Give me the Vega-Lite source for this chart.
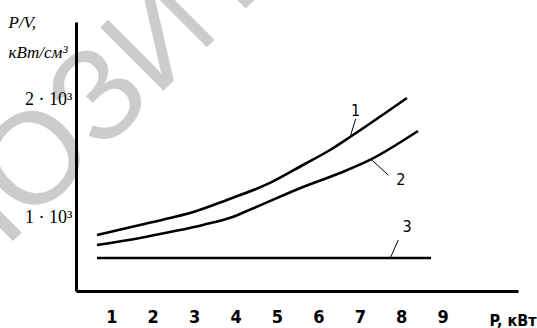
{
  "$schema": "https://vega.github.io/schema/vega-lite/v6.json",
  "width": 442,
  "height": 269,
  "autosize": {"type": "none"},
  "padding": {"left": 76, "top": 22, "right": 19, "bottom": 37},
  "background": "white",
  "config": {"view": {"stroke": null}},
  "datasets": {
    "watermark": [{"x": 2.224, "y": 2534, "t": "РЕПОЗИТОРИЙ"}],
    "curves": [
      {"s": 1, "x": 0.654, "y": 856},
      {"s": 1, "x": 1.692, "y": 941},
      {"s": 1, "x": 2.417, "y": 1000},
      {"s": 1, "x": 2.899, "y": 1042},
      {"s": 1, "x": 3.793, "y": 1153},
      {"s": 1, "x": 4.831, "y": 1297},
      {"s": 1, "x": 5.628, "y": 1449},
      {"s": 1, "x": 6.28, "y": 1576},
      {"s": 1, "x": 6.763, "y": 1686},
      {"s": 1, "x": 8.139, "y": 2017},
      {"s": 2, "x": 0.654, "y": 771},
      {"s": 2, "x": 1.692, "y": 831},
      {"s": 2, "x": 2.417, "y": 881},
      {"s": 2, "x": 3.213, "y": 941},
      {"s": 2, "x": 3.945, "y": 1011},
      {"s": 2, "x": 4.428, "y": 1082},
      {"s": 2, "x": 5.628, "y": 1263},
      {"s": 2, "x": 6.521, "y": 1381},
      {"s": 2, "x": 7.245, "y": 1492},
      {"s": 2, "x": 8.404, "y": 1737},
      {"s": 3, "x": 0.654, "y": 661},
      {"s": 3, "x": 8.72, "y": 661}
    ],
    "labels": [
      {"t": "1", "x": 6.895, "y": 1907},
      {"t": "2", "x": 7.99, "y": 1322},
      {"t": "3", "x": 8.14, "y": 924}
    ],
    "leaders": [
      {"x": 6.9, "y": 1839, "x2": 6.78, "y2": 1703},
      {"x": 7.286, "y": 1492, "x2": 7.687, "y2": 1364},
      {"x": 7.929, "y": 814, "x2": 7.745, "y2": 667}
    ]
  },
  "layer": [
    {
      "data": {"name": "watermark"},
      "mark": {"type": "text", "font": "Liberation Sans", "fontSize": 130, "color": "#cccccc", "angle": -45, "align": "center", "baseline": "middle", "clip": false},
      "encoding": {
        "x": {
          "field": "x", "type": "quantitative",
          "scale": {"domain": [0.147, 10.82], "nice": false, "zero": false},
          "axis": {
            "values": [1, 2, 3, 4, 5, 6, 7, 8, 9],
            "title": "P, кВт",
            "zindex": 1,
            "ticks": false, "grid": false,
            "domainColor": "black", "domainWidth": 3,
            "labelFont": "Liberation Sans Narrow, DejaVu Sans Condensed, Liberation Sans", "labelFontWeight": "bold", "labelFontSize": 18, "labelColor": "black",
            "labelBaseline": "alphabetic", "labelPadding": 31, "labelFlush": false, "labelOverlap": false,
            "titleFont": "Liberation Sans Narrow, DejaVu Sans Condensed, Liberation Sans", "titleFontWeight": "bold", "titleFontSize": 16, "titleColor": "black",
            "titleAlign": "left", "titleBaseline": "alphabetic", "titleX": 413, "titleY": 34
          }
        },
        "y": {
          "field": "y", "type": "quantitative",
          "scale": {"domain": [381, 2661], "nice": false, "zero": false},
          "axis": {
            "values": [1000, 2000],
            "labelExpr": "datum.value == 1000 ? '1 · 10³' : '2 · 10³'",
            "zindex": 1,
            "ticks": false, "grid": false,
            "domainColor": "black", "domainWidth": 3,
            "labelFont": "Liberation Serif", "labelFontSize": 18, "labelColor": "black", "labelPadding": 4,
            "title": ["P/V,", "кВт/см³"],
            "titleFont": "Liberation Serif", "titleFontStyle": "italic", "titleFontWeight": "normal", "titleFontSize": 17, "titleColor": "black",
            "titleAngle": 0, "titleAlign": "left", "titleBaseline": "alphabetic", "titleX": -68, "titleY": 5, "titleLineHeight": 30
          }
        },
        "text": {"field": "t"}
      }
    },
    {
      "data": {"name": "curves"},
      "mark": {"type": "line", "color": "black", "strokeWidth": 2.6, "interpolate": "monotone"},
      "encoding": {
        "x": {"field": "x", "type": "quantitative"},
        "y": {"field": "y", "type": "quantitative"},
        "detail": {"field": "s"}
      }
    },
    {
      "data": {"name": "leaders"},
      "mark": {"type": "rule", "color": "black", "strokeWidth": 1},
      "encoding": {
        "x": {"field": "x", "type": "quantitative"},
        "y": {"field": "y", "type": "quantitative"},
        "x2": {"field": "x2"},
        "y2": {"field": "y2"}
      }
    },
    {
      "data": {"name": "labels"},
      "mark": {"type": "text", "font": "Liberation Sans Narrow, DejaVu Sans Condensed, Liberation Sans", "fontSize": 16, "color": "black", "align": "center", "baseline": "middle"},
      "encoding": {
        "x": {"field": "x", "type": "quantitative"},
        "y": {"field": "y", "type": "quantitative"},
        "text": {"field": "t"}
      }
    }
  ]
}
